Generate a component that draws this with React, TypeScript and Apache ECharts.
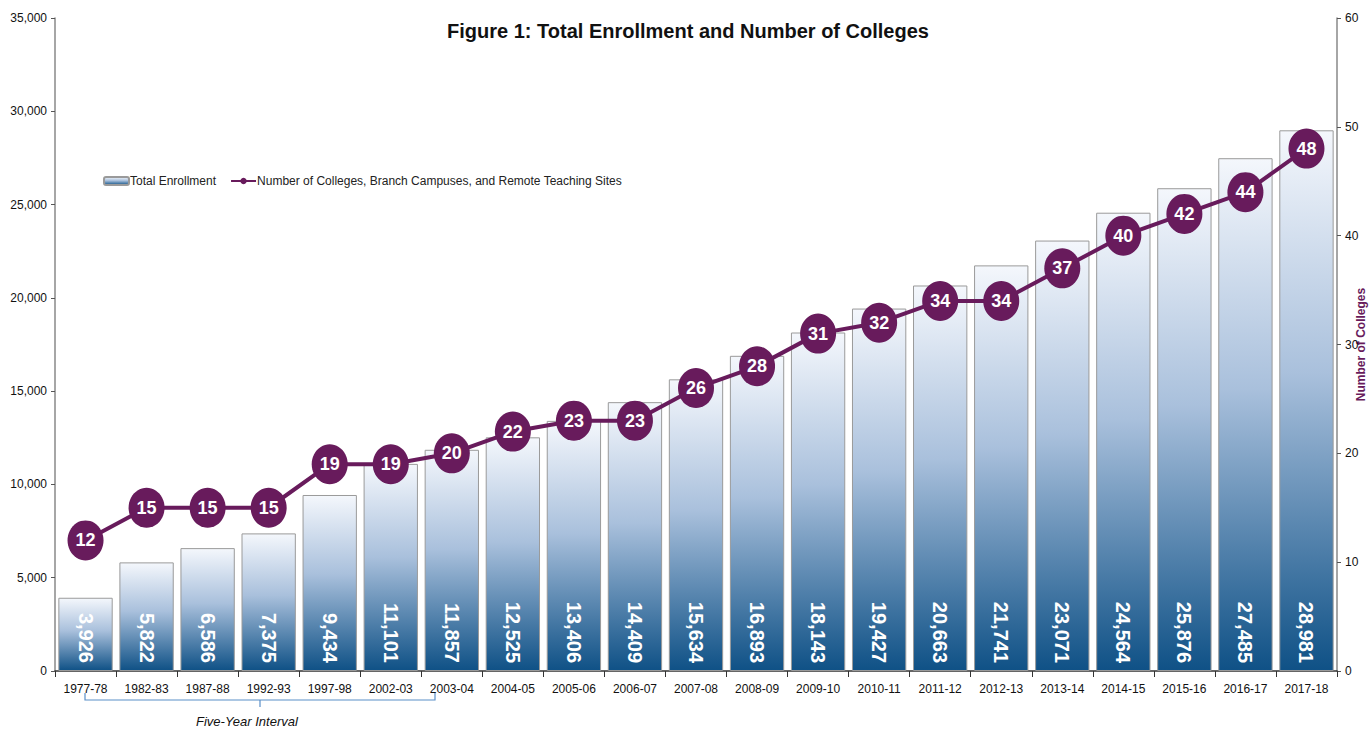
import React, { useEffect, useRef } from "react";
import * as echarts from "echarts";

const categories = ["1977-78","1982-83","1987-88","1992-93","1997-98","2002-03","2003-04","2004-05","2005-06","2006-07","2007-08","2008-09","2009-10","2010-11","2011-12","2012-13","2013-14","2014-15","2015-16","2016-17","2017-18"];
const enrollment = [3926,5822,6586,7375,9434,11101,11857,12525,13406,14409,15634,16893,18143,19427,20663,21741,23071,24564,25876,27485,28981];
const colleges = [12,15,15,15,19,19,20,22,23,23,26,28,31,32,34,34,37,40,42,44,48];

const FONT = "'Liberation Sans', Arial, sans-serif";
const PURPLE = "#681b5c";

export default function App() {
  const ref = useRef<HTMLDivElement>(null);
  useEffect(() => {
    const chart = echarts.init(ref.current!, null, { renderer: "svg" });
    const grad = new echarts.graphic.LinearGradient(0, 0, 0, 1, [
      { offset: 0, color: "#f4f7fc" },
      { offset: 0.45, color: "#a9c0dc" },
      { offset: 1, color: "#0f5186" },
    ]);
    chart.setOption({
      animation: false,
      backgroundColor: "#fff",
      textStyle: { fontFamily: FONT },
      title: {
        text: "Figure 1: Total Enrollment and Number of Colleges",
        left: 683, top: 16, textAlign: "center",
        textStyle: { fontFamily: FONT, fontSize: 20, fontWeight: "bold", color: "#111" },
      },
      legend: {
        left: 98, top: 170, itemGap: 14, itemWidth: 25, itemHeight: 8,
        textStyle: { fontFamily: FONT, fontSize: 12, color: "#222", padding: [0, 0, 0, -4] },
        data: ["Total Enrollment", "Number of Colleges, Branch Campuses, and Remote Teaching Sites"],
      },
      grid: { left: 55, right: 32, top: 18, bottom: 59, containLabel: false, outerBoundsMode: "none" },
      xAxis: {
        type: "category", data: categories,
        axisLine: { lineStyle: { color: "#333", width: 1.5 } },
        axisTick: { show: true, lineStyle: { color: "#333" }, length: 6 },
        axisLabel: { color: "#111", fontSize: 12, fontFamily: FONT, margin: 12, interval: 0 },
      },
      yAxis: [
        {
          type: "value", min: 0, max: 35000, interval: 5000,
          axisLine: { show: true, lineStyle: { color: "#888", width: 1.5 } },
          axisTick: { show: true, length: 4, lineStyle: { color: "#555" } },
          splitLine: { show: false },
          axisLabel: { color: "#111", fontSize: 12, fontFamily: FONT, margin: 8, formatter: (v: number) => v.toLocaleString("en-US") },
        },
        {
          type: "value", min: 0, max: 60, interval: 10, position: "right",
          name: "Number of Colleges", nameLocation: "middle", nameRotate: 90, nameGap: 18,
          nameMoveOverlap: false,
          nameTextStyle: { color: PURPLE, fontWeight: "bold", fontSize: 12, lineHeight: 12, fontFamily: FONT },
          axisLine: { show: true, lineStyle: { color: "#888", width: 1.5 } },
          axisTick: { show: true, length: 4, inside: false, lineStyle: { color: "#555" } },
          splitLine: { show: false },
          axisLabel: { color: "#111", fontSize: 12, fontFamily: FONT, margin: 8 },
        },
      ],
      series: [
        {
          name: "Total Enrollment", type: "bar", data: enrollment, barCategoryGap: "11%",
          itemStyle: { color: grad, borderColor: "#9a9a9a", borderWidth: 1 },
          label: {
            show: true, position: "insideBottom", rotate: -90, align: "right", verticalAlign: "middle",
            distance: 8, color: "#fff", fontWeight: "bold", fontSize: 20, fontFamily: FONT,
            formatter: (p: any) => (p.value as number).toLocaleString("en-US"),
          },
        },
        {
          name: "Number of Colleges, Branch Campuses, and Remote Teaching Sites",
          type: "line", yAxisIndex: 1, data: colleges,
          symbol: "circle", symbolSize: [36, 40],
          lineStyle: { color: PURPLE, width: 4 },
          itemStyle: { color: PURPLE },
          label: { show: true, position: "inside", color: "#fff", fontWeight: "bold", fontSize: 18, fontFamily: FONT },
          z: 5,
        },
      ],
      graphic: [
        {
          type: "polyline",
          shape: { points: [[85, 693], [85, 700], [260, 700], [260, 707], [260, 700], [435, 700], [435, 693]] },
          style: { stroke: "#5a8fc8", lineWidth: 1.2, fill: null },
        },
        {
          type: "text", left: 196, top: 715,
          style: { text: "Five-Year Interval", font: `italic 13px ${FONT}`, fill: "#111" },
        },
      ],
    });
    return () => chart.dispose();
  }, []);
  return <div ref={ref} style={{ width: 1369, height: 730, position: "absolute", left: 0, top: 0 }} />;
}
